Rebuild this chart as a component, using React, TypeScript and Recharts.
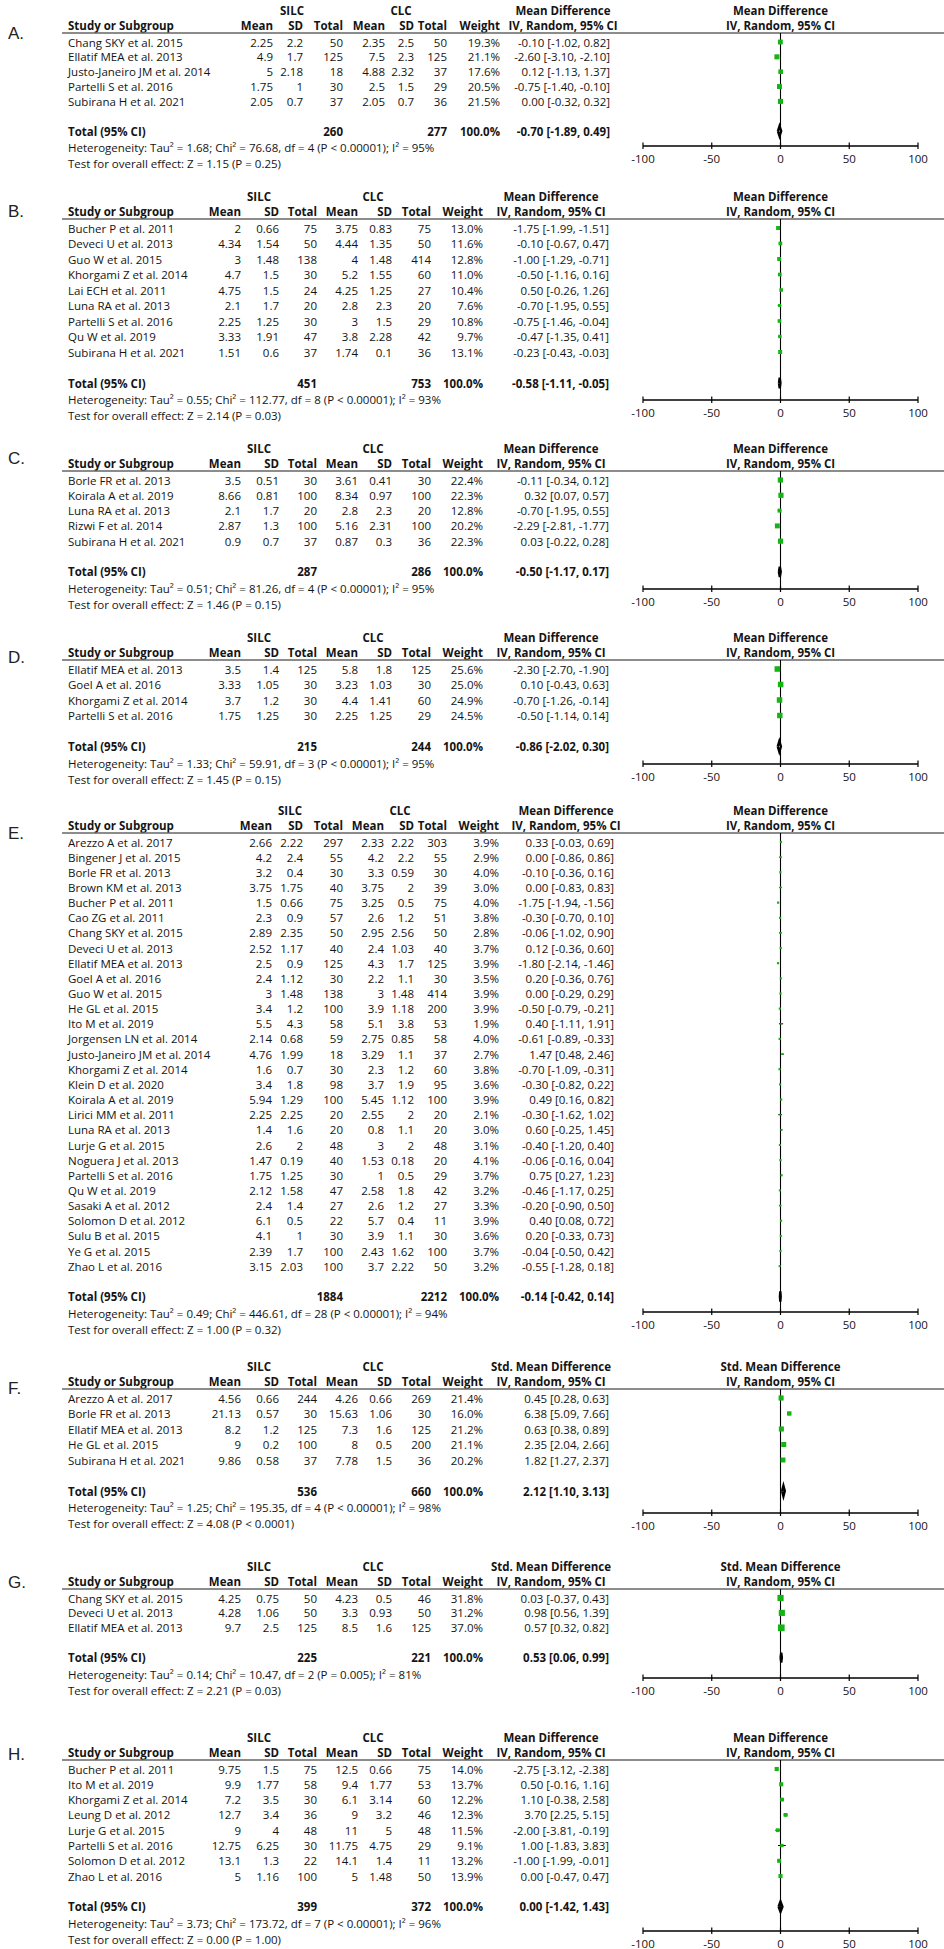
import React from "react";
import { ScatterChart, Scatter, XAxis, YAxis, ReferenceLine, ErrorBar } from "recharts";

// [study, SILC mean, SILC SD, SILC total, CLC mean, CLC SD, CLC total, weight %, estimate, CI low, CI high]
type Row = [string, number, number, number, number, number, number, number, number, number, number];

const studiesA: Row[] = [
  ["Chang SKY et al. 2015", 2.25, 2.2, 50, 2.35, 2.5, 50, 19.3, -0.1, -1.02, 0.82],
  ["Ellatif MEA et al. 2013", 4.9, 1.7, 125, 7.5, 2.3, 125, 21.1, -2.6, -3.1, -2.1],
  ["Justo-Janeiro JM et al. 2014", 5, 2.18, 18, 4.88, 2.32, 37, 17.6, 0.12, -1.13, 1.37],
  ["Partelli S et al. 2016", 1.75, 1, 30, 2.5, 1.5, 29, 20.5, -0.75, -1.4, -0.1],
  ["Subirana H et al. 2021", 2.05, 0.7, 37, 2.05, 0.7, 36, 21.5, 0, -0.32, 0.32],
];
const totalA = [260, 277, -0.7, -1.89, 0.49];
const hetA = "Heterogeneity: Tau² = 1.68; Chi² = 76.68, df = 4 (P < 0.00001); I² = 95%";
const testA = "Test for overall effect: Z = 1.15 (P = 0.25)";

const studiesB: Row[] = [
  ["Bucher P et al. 2011", 2, 0.66, 75, 3.75, 0.83, 75, 13.0, -1.75, -1.99, -1.51],
  ["Deveci U et al. 2013", 4.34, 1.54, 50, 4.44, 1.35, 50, 11.6, -0.1, -0.67, 0.47],
  ["Guo W et al. 2015", 3, 1.48, 138, 4, 1.48, 414, 12.8, -1.0, -1.29, -0.71],
  ["Khorgami Z et al. 2014", 4.7, 1.5, 30, 5.2, 1.55, 60, 11.0, -0.5, -1.16, 0.16],
  ["Lai ECH et al. 2011", 4.75, 1.5, 24, 4.25, 1.25, 27, 10.4, 0.5, -0.26, 1.26],
  ["Luna RA et al. 2013", 2.1, 1.7, 20, 2.8, 2.3, 20, 7.6, -0.7, -1.95, 0.55],
  ["Partelli S et al. 2016", 2.25, 1.25, 30, 3, 1.5, 29, 10.8, -0.75, -1.46, -0.04],
  ["Qu W et al. 2019", 3.33, 1.91, 47, 3.8, 2.28, 42, 9.7, -0.47, -1.35, 0.41],
  ["Subirana H et al. 2021", 1.51, 0.6, 37, 1.74, 0.1, 36, 13.1, -0.23, -0.43, -0.03],
];
const totalB = [451, 753, -0.58, -1.11, -0.05];
const hetB = "Heterogeneity: Tau² = 0.55; Chi² = 112.77, df = 8 (P < 0.00001); I² = 93%";
const testB = "Test for overall effect: Z = 2.14 (P = 0.03)";

const studiesC: Row[] = [
  ["Borle FR et al. 2013", 3.5, 0.51, 30, 3.61, 0.41, 30, 22.4, -0.11, -0.34, 0.12],
  ["Koirala A et al. 2019", 8.66, 0.81, 100, 8.34, 0.97, 100, 22.3, 0.32, 0.07, 0.57],
  ["Luna RA et al. 2013", 2.1, 1.7, 20, 2.8, 2.3, 20, 12.8, -0.7, -1.95, 0.55],
  ["Rizwi F et al. 2014", 2.87, 1.3, 100, 5.16, 2.31, 100, 20.2, -2.29, -2.81, -1.77],
  ["Subirana H et al. 2021", 0.9, 0.7, 37, 0.87, 0.3, 36, 22.3, 0.03, -0.22, 0.28],
];
const totalC = [287, 286, -0.5, -1.17, 0.17];
const hetC = "Heterogeneity: Tau² = 0.51; Chi² = 81.26, df = 4 (P < 0.00001); I² = 95%";
const testC = "Test for overall effect: Z = 1.46 (P = 0.15)";

const studiesD: Row[] = [
  ["Ellatif MEA et al. 2013", 3.5, 1.4, 125, 5.8, 1.8, 125, 25.6, -2.3, -2.7, -1.9],
  ["Goel A et al. 2016", 3.33, 1.05, 30, 3.23, 1.03, 30, 25.0, 0.1, -0.43, 0.63],
  ["Khorgami Z et al. 2014", 3.7, 1.2, 30, 4.4, 1.41, 60, 24.9, -0.7, -1.26, -0.14],
  ["Partelli S et al. 2016", 1.75, 1.25, 30, 2.25, 1.25, 29, 24.5, -0.5, -1.14, 0.14],
];
const totalD = [215, 244, -0.86, -2.02, 0.3];
const hetD = "Heterogeneity: Tau² = 1.33; Chi² = 59.91, df = 3 (P < 0.00001); I² = 95%";
const testD = "Test for overall effect: Z = 1.45 (P = 0.15)";

const studiesE: Row[] = [
  ["Arezzo A et al. 2017", 2.66, 2.22, 297, 2.33, 2.22, 303, 3.9, 0.33, -0.03, 0.69],
  ["Bingener J et al. 2015", 4.2, 2.4, 55, 4.2, 2.2, 55, 2.9, 0, -0.86, 0.86],
  ["Borle FR et al. 2013", 3.2, 0.4, 30, 3.3, 0.59, 30, 4.0, -0.1, -0.36, 0.16],
  ["Brown KM et al. 2013", 3.75, 1.75, 40, 3.75, 2, 39, 3.0, 0, -0.83, 0.83],
  ["Bucher P et al. 2011", 1.5, 0.66, 75, 3.25, 0.5, 75, 4.0, -1.75, -1.94, -1.56],
  ["Cao ZG et al. 2011", 2.3, 0.9, 57, 2.6, 1.2, 51, 3.8, -0.3, -0.7, 0.1],
  ["Chang SKY et al. 2015", 2.89, 2.35, 50, 2.95, 2.56, 50, 2.8, -0.06, -1.02, 0.9],
  ["Deveci U et al. 2013", 2.52, 1.17, 40, 2.4, 1.03, 40, 3.7, 0.12, -0.36, 0.6],
  ["Ellatif MEA et al. 2013", 2.5, 0.9, 125, 4.3, 1.7, 125, 3.9, -1.8, -2.14, -1.46],
  ["Goel A et al. 2016", 2.4, 1.12, 30, 2.2, 1.1, 30, 3.5, 0.2, -0.36, 0.76],
  ["Guo W et al. 2015", 3, 1.48, 138, 3, 1.48, 414, 3.9, 0, -0.29, 0.29],
  ["He GL et al. 2015", 3.4, 1.2, 100, 3.9, 1.18, 200, 3.9, -0.5, -0.79, -0.21],
  ["Ito M et al. 2019", 5.5, 4.3, 58, 5.1, 3.8, 53, 1.9, 0.4, -1.11, 1.91],
  ["Jorgensen LN et al. 2014", 2.14, 0.68, 59, 2.75, 0.85, 58, 4.0, -0.61, -0.89, -0.33],
  ["Justo-Janeiro JM et al. 2014", 4.76, 1.99, 18, 3.29, 1.1, 37, 2.7, 1.47, 0.48, 2.46],
  ["Khorgami Z et al. 2014", 1.6, 0.7, 30, 2.3, 1.2, 60, 3.8, -0.7, -1.09, -0.31],
  ["Klein D et al. 2020", 3.4, 1.8, 98, 3.7, 1.9, 95, 3.6, -0.3, -0.82, 0.22],
  ["Koirala A et al. 2019", 5.94, 1.29, 100, 5.45, 1.12, 100, 3.9, 0.49, 0.16, 0.82],
  ["Lirici MM et al. 2011", 2.25, 2.25, 20, 2.55, 2, 20, 2.1, -0.3, -1.62, 1.02],
  ["Luna RA et al. 2013", 1.4, 1.6, 20, 0.8, 1.1, 20, 3.0, 0.6, -0.25, 1.45],
  ["Lurje G et al. 2015", 2.6, 2, 48, 3, 2, 48, 3.1, -0.4, -1.2, 0.4],
  ["Noguera J et al. 2013", 1.47, 0.19, 40, 1.53, 0.18, 20, 4.1, -0.06, -0.16, 0.04],
  ["Partelli S et al. 2016", 1.75, 1.25, 30, 1, 0.5, 29, 3.7, 0.75, 0.27, 1.23],
  ["Qu W et al. 2019", 2.12, 1.58, 47, 2.58, 1.8, 42, 3.2, -0.46, -1.17, 0.25],
  ["Sasaki A et al. 2012", 2.4, 1.4, 27, 2.6, 1.2, 27, 3.3, -0.2, -0.9, 0.5],
  ["Solomon D et al. 2012", 6.1, 0.5, 22, 5.7, 0.4, 11, 3.9, 0.4, 0.08, 0.72],
  ["Sulu B et al. 2015", 4.1, 1, 30, 3.9, 1.1, 30, 3.6, 0.2, -0.33, 0.73],
  ["Ye G et al. 2015", 2.39, 1.7, 100, 2.43, 1.62, 100, 3.7, -0.04, -0.5, 0.42],
  ["Zhao L et al. 2016", 3.15, 2.03, 100, 3.7, 2.22, 50, 3.2, -0.55, -1.28, 0.18],
];
const totalE = [1884, 2212, -0.14, -0.42, 0.14];
const hetE = "Heterogeneity: Tau² = 0.49; Chi² = 446.61, df = 28 (P < 0.00001); I² = 94%";
const testE = "Test for overall effect: Z = 1.00 (P = 0.32)";

const studiesF: Row[] = [
  ["Arezzo A et al. 2017", 4.56, 0.66, 244, 4.26, 0.66, 269, 21.4, 0.45, 0.28, 0.63],
  ["Borle FR et al. 2013", 21.13, 0.57, 30, 15.63, 1.06, 30, 16.0, 6.38, 5.09, 7.66],
  ["Ellatif MEA et al. 2013", 8.2, 1.2, 125, 7.3, 1.6, 125, 21.2, 0.63, 0.38, 0.89],
  ["He GL et al. 2015", 9, 0.2, 100, 8, 0.5, 200, 21.1, 2.35, 2.04, 2.66],
  ["Subirana H et al. 2021", 9.86, 0.58, 37, 7.78, 1.5, 36, 20.2, 1.82, 1.27, 2.37],
];
const totalF = [536, 660, 2.12, 1.1, 3.13];
const hetF = "Heterogeneity: Tau² = 1.25; Chi² = 195.35, df = 4 (P < 0.00001); I² = 98%";
const testF = "Test for overall effect: Z = 4.08 (P < 0.0001)";

const studiesG: Row[] = [
  ["Chang SKY et al. 2015", 4.25, 0.75, 50, 4.23, 0.5, 46, 31.8, 0.03, -0.37, 0.43],
  ["Deveci U et al. 2013", 4.28, 1.06, 50, 3.3, 0.93, 50, 31.2, 0.98, 0.56, 1.39],
  ["Ellatif MEA et al. 2013", 9.7, 2.5, 125, 8.5, 1.6, 125, 37.0, 0.57, 0.32, 0.82],
];
const totalG = [225, 221, 0.53, 0.06, 0.99];
const hetG = "Heterogeneity: Tau² = 0.14; Chi² = 10.47, df = 2 (P = 0.005); I² = 81%";
const testG = "Test for overall effect: Z = 2.21 (P = 0.03)";

const studiesH: Row[] = [
  ["Bucher P et al. 2011", 9.75, 1.5, 75, 12.5, 0.66, 75, 14.0, -2.75, -3.12, -2.38],
  ["Ito M et al. 2019", 9.9, 1.77, 58, 9.4, 1.77, 53, 13.7, 0.5, -0.16, 1.16],
  ["Khorgami Z et al. 2014", 7.2, 3.5, 30, 6.1, 3.14, 60, 12.2, 1.1, -0.38, 2.58],
  ["Leung D et al. 2012", 12.7, 3.4, 36, 9, 3.2, 46, 12.3, 3.7, 2.25, 5.15],
  ["Lurje G et al. 2015", 9, 4, 48, 11, 5, 48, 11.5, -2.0, -3.81, -0.19],
  ["Partelli S et al. 2016", 12.75, 6.25, 30, 11.75, 4.75, 29, 9.1, 1.0, -1.83, 3.83],
  ["Solomon D et al. 2012", 13.1, 1.3, 22, 14.1, 1.4, 11, 13.2, -1.0, -1.99, -0.01],
  ["Zhao L et al. 2016", 5, 1.16, 100, 5, 1.48, 50, 13.9, 0, -0.47, 0.47],
];
const totalH = [399, 372, 0, -1.42, 1.43];
const hetH = "Heterogeneity: Tau² = 3.73; Chi² = 173.72, df = 7 (P < 0.00001); I² = 96%";
const testH = "Test for overall effect: Z = 0.00 (P = 1.00)";

const axisTicks = [-100, -50, 0, 50, 100];
const axisDomain = [-100, 100];

// ---------- layout & style ----------
const FONT = "'Open Sans', 'DejaVu Sans', sans-serif";
const FONT_SIZE = 11.5;
const LABEL_FONT = "'Liberation Sans', Arial, sans-serif";
const INK = "#141414";
const GREEN = "#14b414";
const PLOT_LEFT = 643;
const PLOT_RIGHT = 918;
const PLOT_CENTER = (PLOT_LEFT + PLOT_RIGHT) / 2;

type Cols = { mean1: number; sd1: number; tot1: number; mean2: number; sd2: number; tot2: number; weight: number; ci: number; ciHead: number; silc: number; clc: number };
const WIDE: Cols = { mean1: 273, sd1: 303, tot1: 343, mean2: 385, sd2: 414, tot2: 447, weight: 500, ci: 610, ciHead: 563, silc: 292, clc: 401 };
const WIDE_E: Cols = { mean1: 272, sd1: 303, tot1: 343, mean2: 384, sd2: 414, tot2: 447, weight: 499, ci: 614, ciHead: 566, silc: 290, clc: 400 };
const NARROW: Cols = { mean1: 241, sd1: 279, tot1: 317, mean2: 358, sd2: 392, tot2: 431, weight: 483, ci: 609, ciHead: 551, silc: 259, clc: 373 };

type PanelDef = {
  label: string; rows: Row[]; total: number[]; het: string; test: string; measure: string;
  cols: Cols; first: number; rowH: number; axisY: number; labelY: number;
};

const panels: PanelDef[] = [
  { label: "A.", rows: studiesA, total: totalA, het: hetA, test: testA, measure: "Mean Difference", cols: WIDE, first: 42, rowH: 14.85, axisY: 146, labelY: 33 },
  { label: "B.", rows: studiesB, total: totalB, het: hetB, test: testB, measure: "Mean Difference", cols: NARROW, first: 228, rowH: 15.5, axisY: 400, labelY: 211 },
  { label: "C.", rows: studiesC, total: totalC, het: hetC, test: testC, measure: "Mean Difference", cols: NARROW, first: 480, rowH: 15.3, axisY: 589, labelY: 458 },
  { label: "D.", rows: studiesD, total: totalD, het: hetD, test: testD, measure: "Mean Difference", cols: NARROW, first: 669, rowH: 15.5, axisY: 764, labelY: 657 },
  { label: "E.", rows: studiesE, total: totalE, het: hetE, test: testE, measure: "Mean Difference", cols: WIDE_E, first: 842, rowH: 15.15, axisY: 1312, labelY: 833 },
  { label: "F.", rows: studiesF, total: totalF, het: hetF, test: testF, measure: "Std. Mean Difference", cols: NARROW, first: 1398, rowH: 15.5, axisY: 1513, labelY: 1388 },
  { label: "G.", rows: studiesG, total: totalG, het: hetG, test: testG, measure: "Std. Mean Difference", cols: NARROW, first: 1598, rowH: 14.9, axisY: 1678, labelY: 1582 },
  { label: "H.", rows: studiesH, total: totalH, het: hetH, test: testH, measure: "Mean Difference", cols: NARROW, first: 1769, rowH: 15.3, axisY: 1931, labelY: 1754 },
];

const fmtPct = (v: number) => v.toFixed(1) + "%";
const fmtCI = (m: number, l: number, h: number) => `${m.toFixed(2)} [${l.toFixed(2)}, ${h.toFixed(2)}]`;

function T({ x, y, s, a = "start", b = false }: { x: number; y: number; s: string | number; a?: string; b?: boolean }) {
  return (
    <text x={x} y={y} textAnchor={a as any} dominantBaseline="central" fontWeight={b ? 700 : 400}>
      {s}
    </text>
  );
}

const StudySquare = (props: any) => {
  const { cx, cy, payload } = props;
  if (cx == null || cy == null) return <g />;
  const s = 1.1 * Math.sqrt(payload.w);
  return <rect x={cx - s / 2} y={cy - s / 2} width={s} height={s} fill={GREEN} />;
};

const Empty = () => <g />;

const AxisTick = (props: any) => {
  const { x, y, payload } = props;
  return (
    <g>
      <line x1={x} x2={x} y1={y - 3.5} y2={y + 3} stroke="#000" strokeWidth={1.2} />
      <text x={x} y={y + 12} textAnchor="middle" dominantBaseline="central" fontFamily={FONT} fontSize={FONT_SIZE} fill={INK}>
        {payload.value}
      </text>
    </g>
  );
};

function Panel({ p }: { p: PanelDef }) {
  const c = p.cols;
  const n = p.rows.length;
  const lineY = p.first - 9;
  const h1 = p.first - 32;
  const h2 = p.first - 17;
  const rowY = (i: number) => p.first + i * p.rowH;
  const totalIdx = n + 1;
  const totalY = rowY(totalIdx);
  const [tS, tC, est, lo, hi] = p.total;
  const yMin = (lineY - p.first) / p.rowH;
  const yMax = (p.axisY - p.first) / p.rowH;
  const xAxisH = 26;
  const chartH = p.axisY - lineY + xAxisH;

  const pts = p.rows.map((r, i) => ({ x: r[8], y: i, w: r[7], err: [r[8] - r[9], r[10] - r[8]] }));
  const dia = [
    { x: lo, y: totalIdx },
    { x: est, y: totalIdx - 0.34 },
    { x: hi, y: totalIdx },
    { x: est, y: totalIdx + 0.34 },
    { x: lo, y: totalIdx },
  ];

  return (
    <>
      <svg
        style={{ position: "absolute", left: 0, top: 0, overflow: "visible" }}
        width={944}
        height={1949}
        fontFamily={FONT}
        fontSize={FONT_SIZE}
        fill={INK}
      >
        <text x={8} y={p.labelY} dominantBaseline="central" fontFamily={LABEL_FONT} fontSize={17} fill="#222">
          {p.label}
        </text>
        {/* header row 1 */}
        <T x={c.silc} y={h1} s="SILC" a="middle" b />
        <T x={c.clc} y={h1} s="CLC" a="middle" b />
        <T x={c.ciHead} y={h1} s={p.measure} a="middle" b />
        <T x={PLOT_CENTER} y={h1} s={p.measure} a="middle" b />
        {/* header row 2 */}
        <T x={68} y={h2} s="Study or Subgroup" b />
        <T x={c.mean1} y={h2} s="Mean" a="end" b />
        <T x={c.sd1} y={h2} s="SD" a="end" b />
        <T x={c.tot1} y={h2} s="Total" a="end" b />
        <T x={c.mean2} y={h2} s="Mean" a="end" b />
        <T x={c.sd2} y={h2} s="SD" a="end" b />
        <T x={c.tot2} y={h2} s="Total" a="end" b />
        <T x={c.weight} y={h2} s="Weight" a="end" b />
        <T x={c.ciHead} y={h2} s="IV, Random, 95% CI" a="middle" b />
        <T x={PLOT_CENTER} y={h2} s="IV, Random, 95% CI" a="middle" b />
        <line x1={62} x2={944} y1={lineY} y2={lineY} stroke="#666" strokeWidth={1.6} />
        {/* study rows */}
        {p.rows.map((r, i) => {
          const y = rowY(i);
          return (
            <g key={i}>
              <T x={68} y={y} s={r[0]} />
              <T x={c.mean1} y={y} s={r[1]} a="end" />
              <T x={c.sd1} y={y} s={r[2]} a="end" />
              <T x={c.tot1} y={y} s={r[3]} a="end" />
              <T x={c.mean2} y={y} s={r[4]} a="end" />
              <T x={c.sd2} y={y} s={r[5]} a="end" />
              <T x={c.tot2} y={y} s={r[6]} a="end" />
              <T x={c.weight} y={y} s={fmtPct(r[7])} a="end" />
              <T x={c.ci} y={y} s={fmtCI(r[8], r[9], r[10])} a="end" />
            </g>
          );
        })}
        {/* total */}
        <T x={68} y={totalY} s="Total (95% CI)" b />
        <T x={c.tot1} y={totalY} s={tS} a="end" b />
        <T x={c.tot2} y={totalY} s={tC} a="end" b />
        <T x={c.weight} y={totalY} s="100.0%" a="end" b />
        <T x={c.ci} y={totalY} s={fmtCI(est, lo, hi)} a="end" b />
        <T x={68} y={totalY + 16.5} s={p.het} />
        <T x={68} y={totalY + 32.5} s={p.test} />
      </svg>
      <div style={{ position: "absolute", left: 0, top: lineY }}>
        <ScatterChart
          width={944}
          height={chartH}
          margin={{ top: 0, right: 944 - PLOT_RIGHT, bottom: 0, left: PLOT_LEFT }}
        >
          <XAxis
            type="number"
            dataKey="x"
            domain={axisDomain}
            ticks={axisTicks}
            interval={0}
            allowDataOverflow
            height={xAxisH}
            tickSize={0}
            tickMargin={0}
            tickLine={false}
            axisLine={{ stroke: "#000", strokeWidth: 1.3 }}
            tick={<AxisTick />}
          />
          <YAxis type="number" dataKey="y" domain={[yMin, yMax]} reversed hide allowDataOverflow />
          <ReferenceLine x={0} stroke="#000" strokeWidth={1.1} />
          <Scatter data={pts} shape={<StudySquare />} isAnimationActive={false}>
            <ErrorBar dataKey="err" direction="x" width={0} stroke="#000" strokeWidth={1} isAnimationActive={false} />
          </Scatter>
          <Scatter
            data={dia}
            fill="#000"
            line={{ stroke: "#000", strokeWidth: 2.4 }}
            lineType="joint"
            shape={<Empty />}
            isAnimationActive={false}
          />
        </ScatterChart>
      </div>
    </>
  );
}

export default function App() {
  return (
    <div style={{ position: "absolute", left: 0, top: 0, width: 944, height: 1949, background: "#fff", overflow: "hidden" }}>
      {panels.map((p) => (
        <Panel key={p.label} p={p} />
      ))}
    </div>
  );
}
